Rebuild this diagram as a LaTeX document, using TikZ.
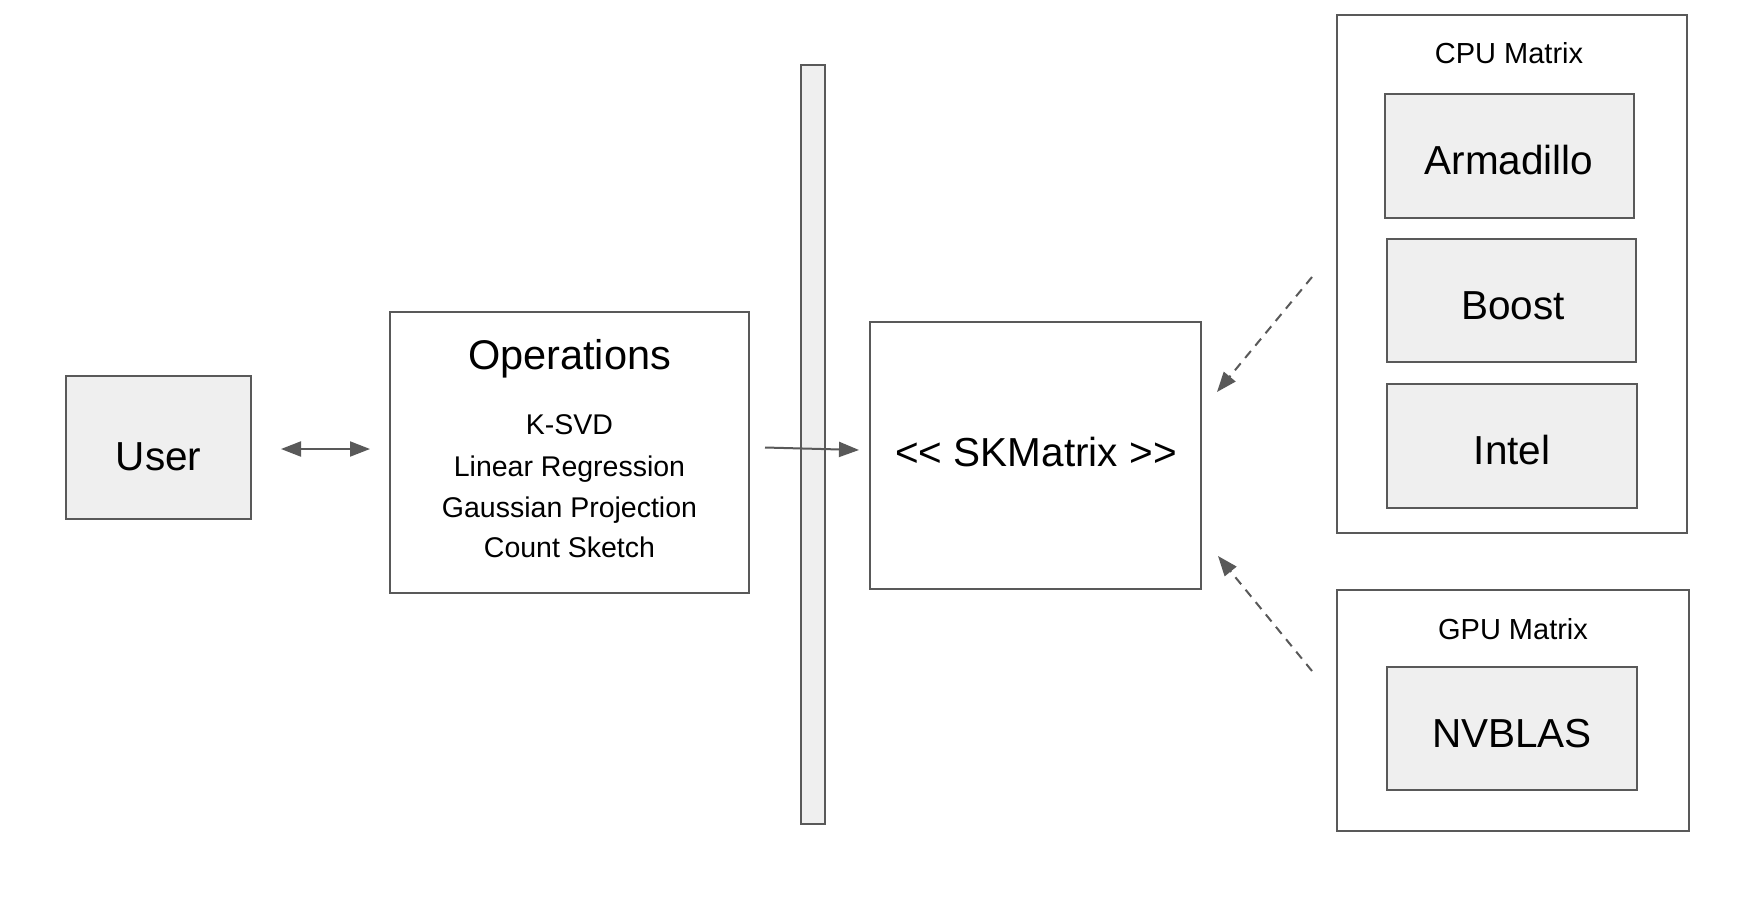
\documentclass[tikz,border=0pt]{standalone}
\usepackage{fontspec}
\setmainfont{Liberation Sans}
\usetikzlibrary{arrows.meta}
\definecolor{edge}{HTML}{595959}
\definecolor{boxfill}{HTML}{EFEFEF}
\begin{document}
\begin{tikzpicture}[x=1pt,y=-1pt,
  plainbox/.style={draw=edge, line width=2.2pt, fill=white, inner sep=0pt, rectangle},
  graybox/.style={plainbox, fill=boxfill},
  lbl/.style={anchor=base, inner sep=0pt, text=black},
  big/.style={lbl, font=\fontsize{40.5}{48}\selectfont},
  small/.style={lbl, font=\fontsize{28.5}{34}\selectfont},
  arr/.style={draw=edge, line width=2pt, -{Triangle[length=20pt,width=15pt]}},
  darr/.style={arr, dash pattern=on 9pt off 7pt}
]
\fill[white] (0,0) rectangle (1758,902);
\useasboundingbox (0,0) rectangle (1758,902);

% boxes
\node[graybox, minimum width=185pt, minimum height=143pt] (user) at (158.5,447.5) {};
\node[plainbox, minimum width=359pt, minimum height=281pt] (ops) at (569.5,452.5) {};
\node[graybox, minimum width=24pt, minimum height=759pt] (bar) at (813,444.5) {};
\node[plainbox, minimum width=331pt, minimum height=267pt] (sk) at (1035.5,455.5) {};
\node[plainbox, minimum width=350pt, minimum height=518pt] (cpu) at (1512,274) {};
\node[graybox, minimum width=249pt, minimum height=124pt] (arm) at (1509.5,156) {};
\node[graybox, minimum width=249pt, minimum height=123pt] (boost) at (1511.5,300.5) {};
\node[graybox, minimum width=250pt, minimum height=124pt] (intel) at (1512,446) {};
\node[plainbox, minimum width=352pt, minimum height=241pt] (gpu) at (1513,710.5) {};
\node[graybox, minimum width=250pt, minimum height=123pt] (nv) at (1512,728.5) {};

% labels
\node[big] (userL) at (158.7,470) {User};
\node[lbl, font=\fontsize{41.5}{48}\selectfont] (opsL) at (569.5,369) {Operations};
\node[small] (op1) at (569.5,434) {K-SVD};
\node[small] (op2) at (569.5,476) {Linear Regression};
\node[small] (op3) at (569.5,517) {Gaussian Projection};
\node[small] (op4) at (569.5,557) {Count Sketch};
\node[big] (skL) at (1036,466) {<\kern0pt< SKMatrix >\kern0pt>};
\node[small, font=\fontsize{29}{34}\selectfont] (cpuL) at (1509,63) {CPU Matrix};
\node[big] (armL) at (1509,174) {Armadillo};
\node[big] (boostL) at (1513,319) {Boost};
\node[big] (intelL) at (1512,464) {Intel};
\node[small, font=\fontsize{29}{34}\selectfont] (gpuL) at (1513,639) {GPU Matrix};
\node[big] (nvL) at (1512,747) {NVBLAS};

% connector ends
\coordinate (uA) at (281,449);
\coordinate (uB) at (370,449);
\coordinate (oA) at (765,447.5);
\coordinate (oB) at (859,450);
\coordinate (cA) at (1312,277);
\coordinate (cB) at (1217,392);
\coordinate (gA) at (1312,671);
\coordinate (gB) at (1218,556);

\draw[arr, {Triangle[length=20pt,width=15pt]}-{Triangle[length=20pt,width=15pt]}] (uA) -- (uB);
\draw[arr] (oA) -- (oB);
\draw[darr] (cA) -- (cB);
\draw[darr] (gA) -- (gB);
\end{tikzpicture}
\end{document}
